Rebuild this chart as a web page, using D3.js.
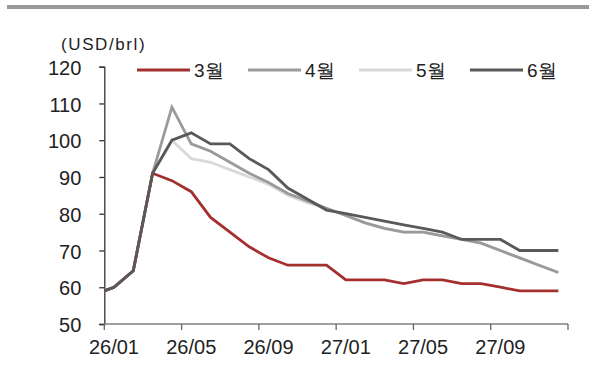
<!DOCTYPE html>
<html>
<head>
<meta charset="utf-8">
<script src="https://cdn.jsdelivr.net/npm/d3@7/dist/d3.min.js"></script>
<style>
  html, body { margin: 0; padding: 0; background: #fff; }
  svg { display: block; }
  text { font-family: "Liberation Sans", Arial, sans-serif; fill: #222; }
</style>
</head>
<body>
<svg id="chart" width="589" height="383"></svg>
<script>
// Monthly categories on the x axis
const months = ['26/01','26/02','26/03','26/04','26/05','26/06','26/07','26/08','26/09','26/10','26/11','26/12',
                '27/01','27/02','27/03','27/04','27/05','27/06','27/07','27/08','27/09','27/10','27/11','27/12'];
const tickLabels = ['26/01','26/05','26/09','27/01','27/05','27/09'];
const yTicks = [50, 60, 70, 80, 90, 100, 110, 120];

// Series: first value is the opening level at the start of the axis,
// the remaining ones are the monthly values (one per month above)
const seriesNames = ['3월', '4월', '5월', '6월'];
const mar = [59, 60, 64.5, 91, 89, 86, 79, 75, 71, 68, 66, 66, 66, 62, 62, 62, 61, 62, 62, 61, 61, 60, 59, 59, 59];
const apr = [59, 60, 64.5, 91, 109, 99, 97, 94, 91, 88.5, 85.5, 83.5, 81.5, 79.5, 77.5, 76, 75, 75, 74, 73, 72, 70, 68, 66, 64];
const may = [59, 60, 64.5, 91, 100, 95, 94, 92, 90, 88, 85, 83, 81.5, 79.5, 77.5, 76, 75, 75, 74, 73, 72, 70, 68, 66, 64];
const jun = [59, 60, 64.5, 91, 100, 102, 99, 99, 95, 92, 87, 84, 81, 80, 79, 78, 77, 76, 75, 73, 73, 73, 70, 70, 70];
const seriesColors = ['#a3302f', '#9a9a9a', '#d9d9d9', '#595959'];

const svg = d3.select('#chart');

// top rule
svg.append('rect').attr('x', 7).attr('y', 5).attr('width', 582).attr('height', 4).attr('fill', '#999');

const plot = { left: 104.3, right: 568, top: 66.7, bottom: 324 };

const x = d3.scaleBand().domain(months).range([plot.left, plot.right]).paddingInner(0).paddingOuter(0);
const y = d3.scaleLinear().domain([50, 120]).range([plot.bottom, plot.top]);

// x position for value i: 0 = start of axis, i>=1 = centre of month i-1
const xPos = i => i === 0 ? x(months[0]) : x(months[i - 1]) + x.bandwidth() / 2;

// y axis
const yAxis = d3.axisLeft(y).tickValues(yTicks).tickSize(5).tickPadding(18);
const gy = svg.append('g').attr('transform', `translate(${plot.left},0)`).call(yAxis);
gy.select('.domain').attr('stroke', '#333').attr('stroke-width', 1.3);
gy.selectAll('.tick line').attr('stroke', '#333').attr('stroke-width', 1.3);
gy.selectAll('.tick text').attr('font-size', 20).attr('fill', '#222')
  .attr('font-family', '"Liberation Sans", Arial, sans-serif').attr('dy', '0.38em');

// x axis: ticks on month boundaries every 4 months, labels on the month centre
const tickMonths = months.filter(m => tickLabels.includes(m));
const gx = svg.append('g').attr('transform', `translate(0,${plot.bottom})`);
gx.append('line').attr('x1', plot.left).attr('x2', plot.right).attr('stroke', '#808080').attr('stroke-width', 1.5);
const boundaries = tickMonths.map(m => x(m)).concat([plot.right]);
gx.selectAll('line.tk').data(boundaries).join('line').attr('class', 'tk')
  .attr('x1', d => d).attr('x2', d => d).attr('y1', 0).attr('y2', 6)
  .attr('stroke', '#666').attr('stroke-width', 1.3);
gx.selectAll('text').data(tickMonths).join('text')
  .attr('x', d => x(d) + x.bandwidth() / 2).attr('y', 29.5)
  .attr('text-anchor', 'middle').attr('font-size', 20).text(d => d);

// unit label
svg.append('text').attr('x', 61).attr('y', 50).attr('font-size', 17)
  .attr('letter-spacing', 1.6).text('(USD/brl)');

// lines
const line = d3.line().x((d, i) => xPos(i)).y(d => y(d));
const allSeries = [mar, apr, may, jun];
const drawOrder = [2, 1, 0, 3];
drawOrder.forEach(k => {
  svg.append('path').datum(allSeries[k]).attr('d', line)
    .attr('fill', 'none').attr('stroke', seriesColors[k]).attr('stroke-width', 2.8)
    .attr('stroke-linejoin', 'miter').attr('stroke-linecap', 'butt');
});

// legend
const lg = d3.scalePoint().domain(seriesNames).range([137, 470]);
const items = svg.append('g').selectAll('g').data(seriesNames).join('g')
  .attr('transform', d => `translate(${lg(d)},70)`);
items.append('line').attr('x1', 0).attr('x2', 53).attr('y1', 0).attr('y2', 0)
  .attr('stroke', (d, i) => seriesColors[i]).attr('stroke-width', 2.8);
items.append('text').attr('x', 57).attr('y', 7).attr('font-size', 19)
  .attr('font-family', '"Liberation Sans", "Noto Sans CJK KR", sans-serif').text(d => d);
</script>
</body>
</html>
